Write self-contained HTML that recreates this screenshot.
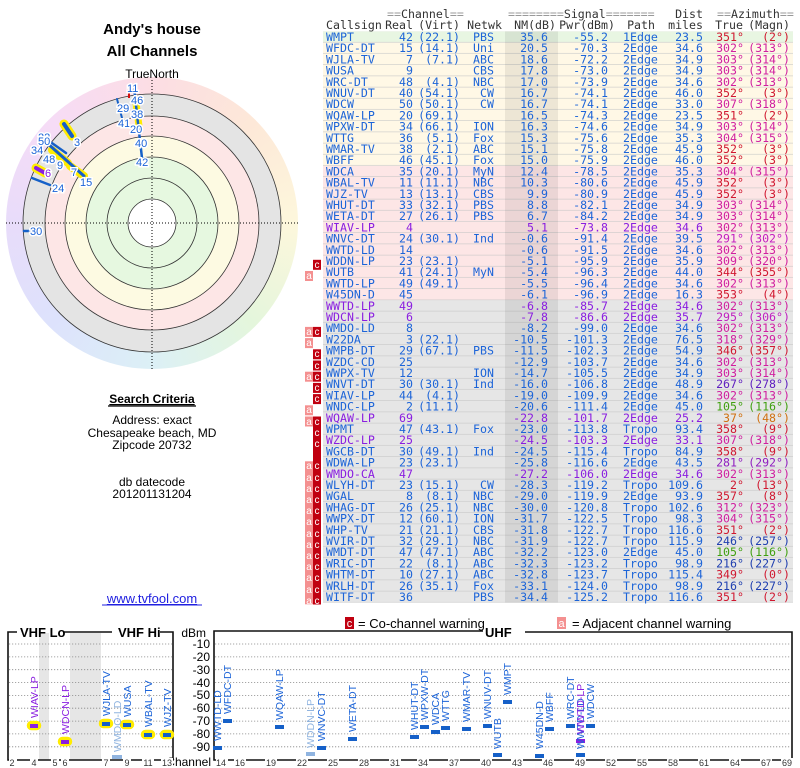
<!DOCTYPE html>
<html><head><meta charset="utf-8"><style>
html,body{margin:0;padding:0;background:#fff;}
#w{position:relative;width:800px;height:768px;overflow:hidden;}
#cg{position:absolute;left:6px;top:77px;width:292px;height:292px;border-radius:50%;
background:conic-gradient(from 0deg,#fcdde4,#fde8d8 45deg,#fdf7dc 90deg,#e4f6dc 135deg,#dcf0f6 180deg,#dde2fc 225deg,#e8dcfa 270deg,#f6dcf6 315deg,#fcdde4);}
svg{position:absolute;left:0;top:0;}
.m{font-family:"DejaVu Sans Mono","Liberation Mono",monospace;font-size:11.6px;fill:#1c64d8;}
.e{text-anchor:end;}
.p{fill:#8a1ee0;}
.h{fill:#999;}
.k{fill:#333;}
.s{font-family:"Liberation Sans",sans-serif;}
.R{fill:#d01830;}.M{fill:#d020a0;}.Q{fill:#c020c0;}.U{fill:#9020c0;}.V{fill:#6020c0;}.B{fill:#2040b0;}.G{fill:#40a010;}.O{fill:#d07010;}
.pl{font-family:"Liberation Sans",sans-serif;font-size:11px;fill:#1c64d8;paint-order:stroke;stroke:#fff;stroke-width:3px;}
.cl{font-family:"Liberation Sans",sans-serif;font-size:10.5px;fill:#1c64d8;}
.ct{font-family:"Liberation Sans",sans-serif;font-size:9px;fill:#333;text-anchor:middle;}
</style></head><body><div id="w"><div id="cg"></div>
<svg width="800" height="768" viewBox="0 0 800 768">
<!-- polar -->
<circle cx="152" cy="223" r="129" fill="#e4e4e4"/>
<circle cx="152" cy="223" r="107" fill="#fde6e6"/>
<circle cx="152" cy="223" r="87" fill="#fdfae2"/>
<circle cx="152" cy="223" r="66" fill="#e6f8e0"/>
<circle cx="152" cy="223" r="24" fill="#fff"/>
<g fill="none" stroke="#333" stroke-width="0.8">
<circle cx="152" cy="223" r="129"/><circle cx="152" cy="223" r="107"/><circle cx="152" cy="223" r="87"/><circle cx="152" cy="223" r="66"/><circle cx="152" cy="223" r="45"/><circle cx="152" cy="223" r="24"/>
</g>
<g stroke="#000" stroke-width="1" stroke-dasharray="1,2">
<line x1="6" y1="223" x2="298" y2="223"/><line x1="152" y1="80" x2="152" y2="370"/>
</g>
<g stroke-linecap="round" fill="none">
<line x1="64" y1="124" x2="72" y2="136" stroke="#ffec00" stroke-width="9"/>
<line x1="36" y1="168" x2="45" y2="173" stroke="#ffec00" stroke-width="9"/>
<line x1="52" y1="150" x2="68" y2="163" stroke="#ffec00" stroke-width="8"/>
<line x1="70" y1="166" x2="84" y2="176" stroke="#ffec00" stroke-width="8"/>
<line x1="136" y1="103" x2="139" y2="126" stroke="#ffec00" stroke-width="7"/>
<line x1="64" y1="124" x2="72" y2="136" stroke="#1560c8" stroke-width="4"/>
<line x1="36" y1="168" x2="45" y2="173" stroke="#8a1ee0" stroke-width="4"/>
<line x1="47" y1="143" x2="84" y2="176" stroke="#1560c8" stroke-width="3"/>
<line x1="42" y1="136" x2="66" y2="153" stroke="#1560c8" stroke-width="2.5"/>
<line x1="32" y1="178" x2="50" y2="185" stroke="#1560c8" stroke-width="2.5"/>
<line x1="24" y1="231" x2="29" y2="231" stroke="#1560c8" stroke-width="2.5"/>
<line x1="134" y1="88" x2="142" y2="158" stroke="#1560c8" stroke-width="2.5"/>
<line x1="117" y1="99" x2="122" y2="118" stroke="#1560c8" stroke-width="2"/>
</g>
<rect x="128" y="93" width="2" height="5" fill="#d01010"/>
<g class="pl">
<text x="127" y="92">11</text><text x="131" y="104">46</text><text x="117" y="112">29</text><text x="131" y="118">38</text><text x="118" y="127">41</text><text x="130" y="133">20</text><text x="135" y="147">40</text><text x="136" y="166">42</text>
<text x="74" y="146">3</text><text x="38" y="141">22</text><text x="38" y="145">50</text><text x="31" y="154">34</text><text x="43" y="163">48</text><text x="57" y="169">9</text><text x="71" y="176">7</text><text x="80" y="186">15</text>
<text x="45" y="177" style="fill:#8a1ee0">6</text><text x="52" y="192">24</text><text x="30" y="235">30</text>
</g>
<g class="s" text-anchor="middle" fill="#000">
<text x="152" y="34" font-size="15" font-weight="bold">Andy's house</text>
<text x="152" y="56" font-size="15" font-weight="bold">All Channels</text>
<text x="152" y="78" font-size="12">TrueNorth</text>
<text x="152" y="403" font-size="12" font-weight="bold" text-decoration="underline">Search Criteria</text>
<text x="152" y="424" font-size="12">Address: exact</text>
<text x="152" y="437" font-size="12">Chesapeake beach, MD</text>
<text x="152" y="449" font-size="12">Zipcode 20732</text>
<text x="152" y="486" font-size="12">db datecode</text>
<text x="152" y="498" font-size="12">201201131204</text>
<text x="152" y="603" font-size="13" fill="#2020e0" text-decoration="underline">www.tvfool.com</text>
</g>
<line x1="102" y1="605" x2="202" y2="605" stroke="#2020e0" stroke-width="1"/>
<line x1="108" y1="406" x2="196" y2="406" stroke="#000" stroke-width="1.2"/>

<!-- table backgrounds -->
<defs><pattern id="rl" patternUnits="userSpaceOnUse" x="0" y="31.4" width="800" height="11.2"><rect x="0" y="10.6" width="800" height="0.6" fill="#c8c8c8"/></pattern></defs>
<rect x="323" y="31.4" width="470" height="11.2" fill="#e8f6e2"/>
<rect x="323" y="42.6" width="470" height="123.2" fill="#fff8e6"/>
<rect x="323" y="165.8" width="470" height="134.4" fill="#fde6e6"/>
<rect x="323" y="300.2" width="470" height="302.4" fill="#e6e6e6"/>
<rect x="323" y="31.4" width="470" height="571.2" fill="url(#rl)"/>
<rect x="505" y="31.4" width="53" height="571.2" fill="#000" fill-opacity="0.07"/>

<!-- header -->
<g class="m">
<text x="387" y="18"><tspan class="h">==</tspan><tspan class="k">Channel</tspan><tspan class="h">==</tspan></text>
<text x="508" y="18"><tspan class="h">========</tspan><tspan class="k">Signal</tspan><tspan class="h">=======</tspan></text>
<text x="703" y="18" class="e k">Dist</text>
<text x="717" y="18"><tspan class="h">==</tspan><tspan class="k">Azimuth</tspan><tspan class="h">==</tspan></text>
<g class="k"><text x="326" y="29">Callsign</text><text x="413" y="29" class="e">Real</text><text x="460" y="29" class="e">(Virt)</text><text x="502" y="29" class="e">Netwk</text><text x="556" y="29" class="e">NM(dB)</text><text x="615" y="29" class="e">Pwr(dBm)</text><text x="655" y="29" class="e">Path</text><text x="703" y="29" class="e">miles</text><text x="743" y="29" class="e">True</text><text x="790" y="29" class="e">(Magn)</text></g>
</g>

<!-- badges -->
<g font-family="Liberation Sans,sans-serif" font-size="9" fill="#fff" text-anchor="middle">
<g fill="#c00010">
<rect x="313" y="259.8" width="8" height="10"/><rect x="313" y="326.9" width="8" height="10"/><rect x="313" y="349.3" width="8" height="10"/><rect x="313" y="360.5" width="8" height="10"/><rect x="313" y="371.7" width="8" height="10"/><rect x="313" y="382.9" width="8" height="10"/><rect x="313" y="394.1" width="8" height="10"/>
<rect x="313" y="416.5" width="8" height="188"/>
</g>
<g fill="#f49090">
<rect x="305" y="271" width="8" height="10"/><rect x="305" y="326.9" width="8" height="10"/><rect x="305" y="338.1" width="8" height="10"/><rect x="305" y="371.7" width="8" height="10"/><rect x="305" y="405.3" width="8" height="10"/><rect x="305" y="416.5" width="8" height="10"/>
<rect x="305" y="461.3" width="8" height="143"/>
</g>
</g>
<g font-family="Liberation Sans,sans-serif" font-size="10" fill="#fff" text-anchor="middle">
<text x="317" y="268">c</text><text x="309" y="279">a</text>
<text x="309" y="335">a</text><text x="317" y="335">c</text><text x="309" y="346">a</text><text x="317" y="357">c</text><text x="317" y="369">c</text><text x="309" y="380">a</text><text x="317" y="380">c</text><text x="317" y="391">c</text><text x="317" y="402">c</text><text x="309" y="413">a</text>
<text x="309" y="425">a</text><text x="317" y="425">c</text><text x="317" y="436">c</text><text x="317" y="447">c</text>
<text x="309" y="469">a</text><text x="317" y="469">c</text><text x="309" y="481">a</text><text x="317" y="481">c</text><text x="309" y="492">a</text><text x="317" y="492">c</text><text x="309" y="503">a</text><text x="317" y="503">c</text><text x="309" y="514">a</text><text x="317" y="514">c</text><text x="309" y="525">a</text><text x="317" y="525">c</text><text x="309" y="537">a</text><text x="317" y="537">c</text><text x="309" y="548">a</text><text x="317" y="548">c</text><text x="309" y="559">a</text><text x="317" y="559">c</text><text x="309" y="570">a</text><text x="317" y="570">c</text><text x="309" y="581">a</text><text x="317" y="581">c</text><text x="309" y="593">a</text><text x="317" y="593">c</text><text x="309" y="604">a</text><text x="317" y="604">c</text>
</g>

<!-- rows -->
<g class="m">
<g transform="translate(0,41)"><text x="326">WMPT</text><text x="413" class="e">42</text><text x="460" class="e">(22.1)</text><text x="494" class="e">PBS</text><text x="548" class="e">35.6</text><text x="608" class="e">-55.2</text><text x="623">1Edge</text><text x="703" class="e">23.5</text><text x="744" class="e R">351°</text><text x="790" class="e R">(2°)</text></g>
<g transform="translate(0,52.2)"><text x="326">WFDC-DT</text><text x="413" class="e">15</text><text x="460" class="e">(14.1)</text><text x="494" class="e">Uni</text><text x="548" class="e">20.5</text><text x="608" class="e">-70.3</text><text x="623">2Edge</text><text x="703" class="e">34.6</text><text x="744" class="e M">302°</text><text x="790" class="e M">(313°)</text></g>
<g transform="translate(0,63.4)"><text x="326">WJLA-TV</text><text x="413" class="e">7</text><text x="460" class="e">(7.1)</text><text x="494" class="e">ABC</text><text x="548" class="e">18.6</text><text x="608" class="e">-72.2</text><text x="623">2Edge</text><text x="703" class="e">34.9</text><text x="744" class="e M">303°</text><text x="790" class="e M">(314°)</text></g>
<g transform="translate(0,74.6)"><text x="326">WUSA</text><text x="413" class="e">9</text><text x="494" class="e">CBS</text><text x="548" class="e">17.8</text><text x="608" class="e">-73.0</text><text x="623">2Edge</text><text x="703" class="e">34.9</text><text x="744" class="e M">303°</text><text x="790" class="e M">(314°)</text></g>
<g transform="translate(0,85.8)"><text x="326">WRC-DT</text><text x="413" class="e">48</text><text x="460" class="e">(4.1)</text><text x="494" class="e">NBC</text><text x="548" class="e">17.0</text><text x="608" class="e">-73.9</text><text x="623">2Edge</text><text x="703" class="e">34.6</text><text x="744" class="e M">302°</text><text x="790" class="e M">(313°)</text></g>
<g transform="translate(0,97)"><text x="326">WNUV-DT</text><text x="413" class="e">40</text><text x="460" class="e">(54.1)</text><text x="494" class="e">CW</text><text x="548" class="e">16.7</text><text x="608" class="e">-74.1</text><text x="623">2Edge</text><text x="703" class="e">46.0</text><text x="744" class="e R">352°</text><text x="790" class="e R">(3°)</text></g>
<g transform="translate(0,108.2)"><text x="326">WDCW</text><text x="413" class="e">50</text><text x="460" class="e">(50.1)</text><text x="494" class="e">CW</text><text x="548" class="e">16.7</text><text x="608" class="e">-74.1</text><text x="623">2Edge</text><text x="703" class="e">33.0</text><text x="744" class="e M">307°</text><text x="790" class="e M">(318°)</text></g>
<g transform="translate(0,119.4)"><text x="326">WQAW-LP</text><text x="413" class="e">20</text><text x="460" class="e">(69.1)</text><text x="548" class="e">16.5</text><text x="608" class="e">-74.3</text><text x="623">2Edge</text><text x="703" class="e">23.5</text><text x="744" class="e R">351°</text><text x="790" class="e R">(2°)</text></g>
<g transform="translate(0,130.6)"><text x="326">WPXW-DT</text><text x="413" class="e">34</text><text x="460" class="e">(66.1)</text><text x="494" class="e">ION</text><text x="548" class="e">16.3</text><text x="608" class="e">-74.6</text><text x="623">2Edge</text><text x="703" class="e">34.9</text><text x="744" class="e M">303°</text><text x="790" class="e M">(314°)</text></g>
<g transform="translate(0,141.8)"><text x="326">WTTG</text><text x="413" class="e">36</text><text x="460" class="e">(5.1)</text><text x="494" class="e">Fox</text><text x="548" class="e">15.3</text><text x="608" class="e">-75.6</text><text x="623">2Edge</text><text x="703" class="e">35.3</text><text x="744" class="e M">304°</text><text x="790" class="e M">(315°)</text></g>
<g transform="translate(0,153)"><text x="326">WMAR-TV</text><text x="413" class="e">38</text><text x="460" class="e">(2.1)</text><text x="494" class="e">ABC</text><text x="548" class="e">15.1</text><text x="608" class="e">-75.8</text><text x="623">2Edge</text><text x="703" class="e">45.9</text><text x="744" class="e R">352°</text><text x="790" class="e R">(3°)</text></g>
<g transform="translate(0,164.2)"><text x="326">WBFF</text><text x="413" class="e">46</text><text x="460" class="e">(45.1)</text><text x="494" class="e">Fox</text><text x="548" class="e">15.0</text><text x="608" class="e">-75.9</text><text x="623">2Edge</text><text x="703" class="e">46.0</text><text x="744" class="e R">352°</text><text x="790" class="e R">(3°)</text></g>
<g transform="translate(0,175.4)"><text x="326">WDCA</text><text x="413" class="e">35</text><text x="460" class="e">(20.1)</text><text x="494" class="e">MyN</text><text x="548" class="e">12.4</text><text x="608" class="e">-78.5</text><text x="623">2Edge</text><text x="703" class="e">35.3</text><text x="744" class="e M">304°</text><text x="790" class="e M">(315°)</text></g>
<g transform="translate(0,186.6)"><text x="326">WBAL-TV</text><text x="413" class="e">11</text><text x="460" class="e">(11.1)</text><text x="494" class="e">NBC</text><text x="548" class="e">10.3</text><text x="608" class="e">-80.6</text><text x="623">2Edge</text><text x="703" class="e">45.9</text><text x="744" class="e R">352°</text><text x="790" class="e R">(3°)</text></g>
<g transform="translate(0,197.8)"><text x="326">WJZ-TV</text><text x="413" class="e">13</text><text x="460" class="e">(13.1)</text><text x="494" class="e">CBS</text><text x="548" class="e">9.9</text><text x="608" class="e">-80.9</text><text x="623">2Edge</text><text x="703" class="e">45.9</text><text x="744" class="e R">352°</text><text x="790" class="e R">(3°)</text></g>
<g transform="translate(0,209)"><text x="326">WHUT-DT</text><text x="413" class="e">33</text><text x="460" class="e">(32.1)</text><text x="494" class="e">PBS</text><text x="548" class="e">8.8</text><text x="608" class="e">-82.1</text><text x="623">2Edge</text><text x="703" class="e">34.9</text><text x="744" class="e M">303°</text><text x="790" class="e M">(314°)</text></g>
<g transform="translate(0,220.2)"><text x="326">WETA-DT</text><text x="413" class="e">27</text><text x="460" class="e">(26.1)</text><text x="494" class="e">PBS</text><text x="548" class="e">6.7</text><text x="608" class="e">-84.2</text><text x="623">2Edge</text><text x="703" class="e">34.9</text><text x="744" class="e M">303°</text><text x="790" class="e M">(314°)</text></g>
<g transform="translate(0,231.4)" class="p"><text x="326">WIAV-LP</text><text x="413" class="e">4</text><text x="548" class="e">5.1</text><text x="608" class="e">-73.8</text><text x="623">2Edge</text><text x="703" class="e">34.6</text><text x="744" class="e M">302°</text><text x="790" class="e M">(313°)</text></g>
<g transform="translate(0,242.6)"><text x="326">WNVC-DT</text><text x="413" class="e">24</text><text x="460" class="e">(30.1)</text><text x="494" class="e">Ind</text><text x="548" class="e">-0.6</text><text x="608" class="e">-91.4</text><text x="623">2Edge</text><text x="703" class="e">39.5</text><text x="744" class="e Q">291°</text><text x="790" class="e Q">(302°)</text></g>
<g transform="translate(0,253.8)"><text x="326">WWTD-LD</text><text x="413" class="e">14</text><text x="548" class="e">-0.6</text><text x="608" class="e">-91.5</text><text x="623">2Edge</text><text x="703" class="e">34.6</text><text x="744" class="e M">302°</text><text x="790" class="e M">(313°)</text></g>
<g transform="translate(0,265)"><text x="326">WDDN-LP</text><text x="413" class="e">23</text><text x="460" class="e">(23.1)</text><text x="548" class="e">-5.1</text><text x="608" class="e">-95.9</text><text x="623">2Edge</text><text x="703" class="e">35.9</text><text x="744" class="e M">309°</text><text x="790" class="e M">(320°)</text></g>
<g transform="translate(0,276.2)"><text x="326">WUTB</text><text x="413" class="e">41</text><text x="460" class="e">(24.1)</text><text x="494" class="e">MyN</text><text x="548" class="e">-5.4</text><text x="608" class="e">-96.3</text><text x="623">2Edge</text><text x="703" class="e">44.0</text><text x="744" class="e R">344°</text><text x="790" class="e R">(355°)</text></g>
<g transform="translate(0,287.4)"><text x="326">WWTD-LP</text><text x="413" class="e">49</text><text x="460" class="e">(49.1)</text><text x="548" class="e">-5.5</text><text x="608" class="e">-96.4</text><text x="623">2Edge</text><text x="703" class="e">34.6</text><text x="744" class="e M">302°</text><text x="790" class="e M">(313°)</text></g>
<g transform="translate(0,298.6)"><text x="326">W45DN-D</text><text x="413" class="e">45</text><text x="548" class="e">-6.1</text><text x="608" class="e">-96.9</text><text x="623">2Edge</text><text x="703" class="e">16.3</text><text x="744" class="e R">353°</text><text x="790" class="e R">(4°)</text></g>
<g transform="translate(0,309.8)" class="p"><text x="326">WWTD-LP</text><text x="413" class="e">49</text><text x="548" class="e">-6.8</text><text x="608" class="e">-85.7</text><text x="623">2Edge</text><text x="703" class="e">34.6</text><text x="744" class="e M">302°</text><text x="790" class="e M">(313°)</text></g>
<g transform="translate(0,321)" class="p"><text x="326">WDCN-LP</text><text x="413" class="e">6</text><text x="548" class="e">-7.8</text><text x="608" class="e">-86.6</text><text x="623">2Edge</text><text x="703" class="e">35.7</text><text x="744" class="e Q">295°</text><text x="790" class="e Q">(306°)</text></g>
<g transform="translate(0,332.2)"><text x="326">WMDO-LD</text><text x="413" class="e">8</text><text x="548" class="e">-8.2</text><text x="608" class="e">-99.0</text><text x="623">2Edge</text><text x="703" class="e">34.6</text><text x="744" class="e M">302°</text><text x="790" class="e M">(313°)</text></g>
<g transform="translate(0,343.4)"><text x="326">W22DA</text><text x="413" class="e">3</text><text x="460" class="e">(22.1)</text><text x="548" class="e">-10.5</text><text x="608" class="e">-101.3</text><text x="623">2Edge</text><text x="703" class="e">76.5</text><text x="744" class="e M">318°</text><text x="790" class="e M">(329°)</text></g>
<g transform="translate(0,354.6)"><text x="326">WMPB-DT</text><text x="413" class="e">29</text><text x="460" class="e">(67.1)</text><text x="494" class="e">PBS</text><text x="548" class="e">-11.5</text><text x="608" class="e">-102.3</text><text x="623">2Edge</text><text x="703" class="e">54.9</text><text x="744" class="e R">346°</text><text x="790" class="e R">(357°)</text></g>
<g transform="translate(0,365.8)"><text x="326">WZDC-CD</text><text x="413" class="e">25</text><text x="548" class="e">-12.9</text><text x="608" class="e">-103.7</text><text x="623">2Edge</text><text x="703" class="e">34.6</text><text x="744" class="e M">302°</text><text x="790" class="e M">(313°)</text></g>
<g transform="translate(0,377)"><text x="326">WWPX-TV</text><text x="413" class="e">12</text><text x="494" class="e">ION</text><text x="548" class="e">-14.7</text><text x="608" class="e">-105.5</text><text x="623">2Edge</text><text x="703" class="e">34.9</text><text x="744" class="e M">303°</text><text x="790" class="e M">(314°)</text></g>
<g transform="translate(0,388.2)"><text x="326">WNVT-DT</text><text x="413" class="e">30</text><text x="460" class="e">(30.1)</text><text x="494" class="e">Ind</text><text x="548" class="e">-16.0</text><text x="608" class="e">-106.8</text><text x="623">2Edge</text><text x="703" class="e">48.9</text><text x="744" class="e V">267°</text><text x="790" class="e V">(278°)</text></g>
<g transform="translate(0,399.4)"><text x="326">WIAV-LP</text><text x="413" class="e">44</text><text x="460" class="e">(4.1)</text><text x="548" class="e">-19.0</text><text x="608" class="e">-109.9</text><text x="623">2Edge</text><text x="703" class="e">34.6</text><text x="744" class="e M">302°</text><text x="790" class="e M">(313°)</text></g>
<g transform="translate(0,410.6)"><text x="326">WNDC-LP</text><text x="413" class="e">2</text><text x="460" class="e">(11.1)</text><text x="548" class="e">-20.6</text><text x="608" class="e">-111.4</text><text x="623">2Edge</text><text x="703" class="e">45.0</text><text x="744" class="e G">105°</text><text x="790" class="e G">(116°)</text></g>
<g transform="translate(0,421.8)" class="p"><text x="326">WQAW-LP</text><text x="413" class="e">69</text><text x="548" class="e">-22.8</text><text x="608" class="e">-101.7</text><text x="623">2Edge</text><text x="703" class="e">25.2</text><text x="744" class="e O">37°</text><text x="790" class="e O">(48°)</text></g>
<g transform="translate(0,433)"><text x="326">WPMT</text><text x="413" class="e">47</text><text x="460" class="e">(43.1)</text><text x="494" class="e">Fox</text><text x="548" class="e">-23.0</text><text x="608" class="e">-113.8</text><text x="623">Tropo</text><text x="703" class="e">93.4</text><text x="744" class="e R">358°</text><text x="790" class="e R">(9°)</text></g>
<g transform="translate(0,444.2)" class="p"><text x="326">WZDC-LP</text><text x="413" class="e">25</text><text x="548" class="e">-24.5</text><text x="608" class="e">-103.3</text><text x="623">2Edge</text><text x="703" class="e">33.1</text><text x="744" class="e M">307°</text><text x="790" class="e M">(318°)</text></g>
<g transform="translate(0,455.4)"><text x="326">WGCB-DT</text><text x="413" class="e">30</text><text x="460" class="e">(49.1)</text><text x="494" class="e">Ind</text><text x="548" class="e">-24.5</text><text x="608" class="e">-115.4</text><text x="623">Tropo</text><text x="703" class="e">84.9</text><text x="744" class="e R">358°</text><text x="790" class="e R">(9°)</text></g>
<g transform="translate(0,466.6)"><text x="326">WDWA-LP</text><text x="413" class="e">23</text><text x="460" class="e">(23.1)</text><text x="548" class="e">-25.8</text><text x="608" class="e">-116.6</text><text x="623">2Edge</text><text x="703" class="e">43.5</text><text x="744" class="e U">281°</text><text x="790" class="e U">(292°)</text></g>
<g transform="translate(0,477.8)" class="p"><text x="326">WMDO-CA</text><text x="413" class="e">47</text><text x="548" class="e">-27.2</text><text x="608" class="e">-106.0</text><text x="623">2Edge</text><text x="703" class="e">34.6</text><text x="744" class="e M">302°</text><text x="790" class="e M">(313°)</text></g>
<g transform="translate(0,489)"><text x="326">WLYH-DT</text><text x="413" class="e">23</text><text x="460" class="e">(15.1)</text><text x="494" class="e">CW</text><text x="548" class="e">-28.3</text><text x="608" class="e">-119.2</text><text x="623">Tropo</text><text x="703" class="e">109.6</text><text x="744" class="e R">2°</text><text x="790" class="e R">(13°)</text></g>
<g transform="translate(0,500.2)"><text x="326">WGAL</text><text x="413" class="e">8</text><text x="460" class="e">(8.1)</text><text x="494" class="e">NBC</text><text x="548" class="e">-29.0</text><text x="608" class="e">-119.9</text><text x="623">2Edge</text><text x="703" class="e">93.9</text><text x="744" class="e R">357°</text><text x="790" class="e R">(8°)</text></g>
<g transform="translate(0,511.4)"><text x="326">WHAG-DT</text><text x="413" class="e">26</text><text x="460" class="e">(25.1)</text><text x="494" class="e">NBC</text><text x="548" class="e">-30.0</text><text x="608" class="e">-120.8</text><text x="623">Tropo</text><text x="703" class="e">102.6</text><text x="744" class="e M">312°</text><text x="790" class="e M">(323°)</text></g>
<g transform="translate(0,522.6)"><text x="326">WWPX-DT</text><text x="413" class="e">12</text><text x="460" class="e">(60.1)</text><text x="494" class="e">ION</text><text x="548" class="e">-31.7</text><text x="608" class="e">-122.5</text><text x="623">Tropo</text><text x="703" class="e">98.3</text><text x="744" class="e M">304°</text><text x="790" class="e M">(315°)</text></g>
<g transform="translate(0,533.8)"><text x="326">WHP-TV</text><text x="413" class="e">21</text><text x="460" class="e">(21.1)</text><text x="494" class="e">CBS</text><text x="548" class="e">-31.8</text><text x="608" class="e">-122.7</text><text x="623">Tropo</text><text x="703" class="e">116.6</text><text x="744" class="e R">351°</text><text x="790" class="e R">(2°)</text></g>
<g transform="translate(0,545)"><text x="326">WVIR-DT</text><text x="413" class="e">32</text><text x="460" class="e">(29.1)</text><text x="494" class="e">NBC</text><text x="548" class="e">-31.9</text><text x="608" class="e">-122.7</text><text x="623">Tropo</text><text x="703" class="e">115.9</text><text x="744" class="e B">246°</text><text x="790" class="e B">(257°)</text></g>
<g transform="translate(0,556.2)"><text x="326">WMDT-DT</text><text x="413" class="e">47</text><text x="460" class="e">(47.1)</text><text x="494" class="e">ABC</text><text x="548" class="e">-32.2</text><text x="608" class="e">-123.0</text><text x="623">2Edge</text><text x="703" class="e">45.0</text><text x="744" class="e G">105°</text><text x="790" class="e G">(116°)</text></g>
<g transform="translate(0,567.4)"><text x="326">WRIC-DT</text><text x="413" class="e">22</text><text x="460" class="e">(8.1)</text><text x="494" class="e">ABC</text><text x="548" class="e">-32.3</text><text x="608" class="e">-123.2</text><text x="623">Tropo</text><text x="703" class="e">98.9</text><text x="744" class="e B">216°</text><text x="790" class="e B">(227°)</text></g>
<g transform="translate(0,578.6)"><text x="326">WHTM-DT</text><text x="413" class="e">10</text><text x="460" class="e">(27.1)</text><text x="494" class="e">ABC</text><text x="548" class="e">-32.8</text><text x="608" class="e">-123.7</text><text x="623">Tropo</text><text x="703" class="e">115.4</text><text x="744" class="e R">349°</text><text x="790" class="e R">(0°)</text></g>
<g transform="translate(0,589.8)"><text x="326">WRLH-DT</text><text x="413" class="e">26</text><text x="460" class="e">(35.1)</text><text x="494" class="e">Fox</text><text x="548" class="e">-33.1</text><text x="608" class="e">-124.0</text><text x="623">Tropo</text><text x="703" class="e">98.9</text><text x="744" class="e B">216°</text><text x="790" class="e B">(227°)</text></g>
<g transform="translate(0,601)"><text x="326">WITF-DT</text><text x="413" class="e">36</text><text x="494" class="e">PBS</text><text x="548" class="e">-34.4</text><text x="608" class="e">-125.2</text><text x="623">Tropo</text><text x="703" class="e">116.6</text><text x="744" class="e R">351°</text><text x="790" class="e R">(2°)</text></g>
</g>

<!-- legend -->
<rect x="345" y="617" width="9" height="12" fill="#c00010"/><text x="349.5" y="627" font-family="Liberation Sans,sans-serif" font-size="11" fill="#fff" text-anchor="middle">c</text>
<text x="358" y="628" class="s" font-size="13" fill="#000">= Co-channel warning</text>
<rect x="557" y="617" width="9" height="12" fill="#f49090"/><text x="561.5" y="627" font-family="Liberation Sans,sans-serif" font-size="11" fill="#fff" text-anchor="middle">a</text>
<text x="572" y="628" class="s" font-size="13" fill="#000">= Adjacent channel warning</text>

<!-- bottom chart -->
<rect x="39" y="633" width="10" height="127" fill="#e6e6e6"/>
<rect x="70" y="633" width="31" height="127" fill="#e6e6e6"/>
<g stroke="#888" stroke-width="0.8" stroke-dasharray="1.2,1.8">
<line x1="9" y1="644" x2="172" y2="644"/><line x1="9" y1="656.9" x2="172" y2="656.9"/><line x1="9" y1="669.7" x2="172" y2="669.7"/><line x1="9" y1="682.6" x2="172" y2="682.6"/><line x1="9" y1="695.4" x2="172" y2="695.4"/><line x1="9" y1="708.2" x2="172" y2="708.2"/><line x1="9" y1="721.1" x2="172" y2="721.1"/><line x1="9" y1="733.9" x2="172" y2="733.9"/><line x1="9" y1="746.8" x2="172" y2="746.8"/>
<line x1="215" y1="644" x2="791" y2="644"/><line x1="215" y1="656.9" x2="791" y2="656.9"/><line x1="215" y1="669.7" x2="791" y2="669.7"/><line x1="215" y1="682.6" x2="791" y2="682.6"/><line x1="215" y1="695.4" x2="791" y2="695.4"/><line x1="215" y1="708.2" x2="791" y2="708.2"/><line x1="215" y1="721.1" x2="791" y2="721.1"/><line x1="215" y1="733.9" x2="791" y2="733.9"/><line x1="215" y1="746.8" x2="791" y2="746.8"/>
</g>
<g stroke="#111" stroke-width="1.6" fill="none">
<polyline points="17,632 8,632 8,760 173,760 173,632 160,632"/><line x1="64" y1="632" x2="112" y2="632"/>
<polyline points="483,631 214,631 214,760 792,760 792,632 525,632"/>
</g>
<g class="s" font-weight="bold" font-size="13" fill="#000">
<text x="20" y="637">VHF Lo</text><text x="118" y="637">VHF Hi</text><text x="485" y="637">UHF</text>
</g>
<g class="s" font-size="12" fill="#000" text-anchor="end">
<text x="206" y="637">dBm</text><text x="210" y="648">-10</text><text x="210" y="661">-20</text><text x="210" y="674">-30</text><text x="210" y="687">-40</text><text x="210" y="699">-50</text><text x="210" y="712">-60</text><text x="210" y="725">-70</text><text x="210" y="738">-80</text><text x="210" y="751">-90</text><text x="211" y="766">Channel</text>
</g>
<g class="ct">
<g fill="#fff" stroke="none">
<rect x="9" y="758" width="8" height="10"/><rect x="30" y="758" width="8" height="10"/><rect x="51" y="758" width="8" height="10"/><rect x="61" y="758" width="8" height="10"/><rect x="102" y="758" width="8" height="10"/><rect x="123" y="758" width="8" height="10"/><rect x="142" y="758" width="12" height="10"/><rect x="161" y="758" width="12" height="10"/>
</g>
<text x="12" y="766">2</text><text x="34" y="766">4</text><text x="55" y="766">5</text><text x="65" y="766">6</text><text x="106" y="766">7</text><text x="127" y="766">9</text><text x="148" y="766">11</text><text x="167" y="766">13</text>
<g fill="#fff"><rect x="216" y="758" width="12" height="10"/><rect x="234" y="758" width="12" height="10"/><rect x="265" y="758" width="12" height="10"/><rect x="296" y="758" width="12" height="10"/><rect x="327" y="758" width="12" height="10"/><rect x="358" y="758" width="12" height="10"/><rect x="389" y="758" width="12" height="10"/><rect x="417" y="758" width="12" height="10"/><rect x="448" y="758" width="12" height="10"/><rect x="480" y="758" width="12" height="10"/><rect x="511" y="758" width="12" height="10"/><rect x="542" y="758" width="12" height="10"/><rect x="574" y="758" width="12" height="10"/><rect x="605" y="758" width="12" height="10"/><rect x="636" y="758" width="12" height="10"/><rect x="667" y="758" width="12" height="10"/><rect x="698" y="758" width="12" height="10"/><rect x="729" y="758" width="12" height="10"/><rect x="760" y="758" width="12" height="10"/><rect x="781" y="758" width="12" height="10"/></g>
<text x="221" y="766">14</text><text x="240" y="766">16</text><text x="271" y="766">19</text><text x="302" y="766">22</text><text x="333" y="766">25</text><text x="364" y="766">28</text><text x="395" y="766">31</text><text x="423" y="766">34</text><text x="454" y="766">37</text><text x="486" y="766">40</text><text x="517" y="766">43</text><text x="548" y="766">46</text><text x="580" y="766">49</text><text x="611" y="766">52</text><text x="642" y="766">55</text><text x="673" y="766">58</text><text x="704" y="766">61</text><text x="735" y="766">64</text><text x="766" y="766">67</text><text x="787" y="766">69</text>
</g>
<!-- markers VHF -->
<g stroke="#ffec00" stroke-width="2.5" fill="#ffec00">
<rect x="28" y="722" width="12" height="7" rx="3.5"/><rect x="59" y="738" width="12" height="7" rx="3.5"/><rect x="100" y="720" width="12" height="7" rx="3.5"/><rect x="121" y="721" width="12" height="7" rx="3.5"/><rect x="142" y="731" width="12" height="7" rx="3.5"/><rect x="161" y="731" width="12" height="7" rx="3.5"/>
</g>
<g fill="#8a1ee0"><rect x="30" y="724" width="8" height="4"/><rect x="61" y="740" width="8" height="4"/></g>
<g fill="#1560c8"><rect x="102" y="722" width="8" height="4"/><rect x="123" y="723" width="8" height="4"/><rect x="144" y="733" width="8" height="4"/><rect x="163" y="733" width="8" height="4"/></g>
<rect x="112" y="755" width="10" height="4" fill="#90b4e0"/>
<g class="cl">
<text transform="translate(38,718) rotate(-90)" style="fill:#8a1ee0">WIAV-LP</text>
<text transform="translate(69,734) rotate(-90)" style="fill:#8a1ee0">WDCN-LP</text>
<text transform="translate(110,716) rotate(-90)">WJLA-TV</text>
<text transform="translate(121,752) rotate(-90)" style="fill:#90b4e0">WMDO-LD</text>
<text transform="translate(131,717) rotate(-90)">WUSA</text>
<text transform="translate(152,727) rotate(-90)">WBAL-TV</text>
<text transform="translate(171,727) rotate(-90)">WJZ-TV</text>
</g>
<!-- markers UHF -->
<g fill="#1560c8">
<rect x="213" y="746" width="9" height="4"/><rect x="223" y="719" width="9" height="4"/><rect x="275" y="725" width="9" height="4"/><rect x="317" y="746" width="9" height="4"/><rect x="348" y="737" width="9" height="4"/><rect x="410" y="735" width="9" height="4"/><rect x="420" y="725" width="9" height="4"/><rect x="431" y="730" width="9" height="4"/><rect x="441" y="726" width="9" height="4"/><rect x="462" y="727" width="9" height="4"/><rect x="483" y="724" width="9" height="4"/><rect x="493" y="753" width="9" height="4"/><rect x="503" y="700" width="9" height="4"/><rect x="535" y="754" width="9" height="4"/><rect x="545" y="727" width="9" height="4"/><rect x="566" y="724" width="9" height="4"/><rect x="576" y="753" width="9" height="4"/><rect x="586" y="724" width="9" height="4"/>
</g>
<rect x="306" y="752" width="9" height="4" fill="#90b4e0"/>
<rect x="576" y="739" width="9" height="4" fill="#8a1ee0"/>
<g class="cl">
<text transform="translate(221,741) rotate(-90)">WWTD-LD</text>
<text transform="translate(231,714) rotate(-90)">WFDC-DT</text>
<text transform="translate(283,720) rotate(-90)">WQAW-LP</text>
<text transform="translate(314,748) rotate(-90)" style="fill:#90b4e0">WDDN-LP</text>
<text transform="translate(325,741) rotate(-90)">WNVC-DT</text>
<text transform="translate(356,732) rotate(-90)">WETA-DT</text>
<text transform="translate(418,730) rotate(-90)">WHUT-DT</text>
<text transform="translate(428,720) rotate(-90)">WPXW-DT</text>
<text transform="translate(439,725) rotate(-90)">WDCA</text>
<text transform="translate(449,721) rotate(-90)">WTTG</text>
<text transform="translate(470,722) rotate(-90)">WMAR-TV</text>
<text transform="translate(491,719) rotate(-90)">WNUV-DT</text>
<text transform="translate(501,749) rotate(-90)">WUTB</text>
<text transform="translate(511,695) rotate(-90)">WMPT</text>
<text transform="translate(543,749) rotate(-90)">W45DN-D</text>
<text transform="translate(553,722) rotate(-90)">WBFF</text>
<text transform="translate(574,719) rotate(-90)">WRC-DT</text>
<text transform="translate(584,749) rotate(-90)">WWTD-LD</text>
<text transform="translate(584,734) rotate(-90)" style="fill:#8a1ee0">WWTD-LP</text>
<text transform="translate(594,719) rotate(-90)">WDCW</text>
</g>
</svg></div></body></html>
